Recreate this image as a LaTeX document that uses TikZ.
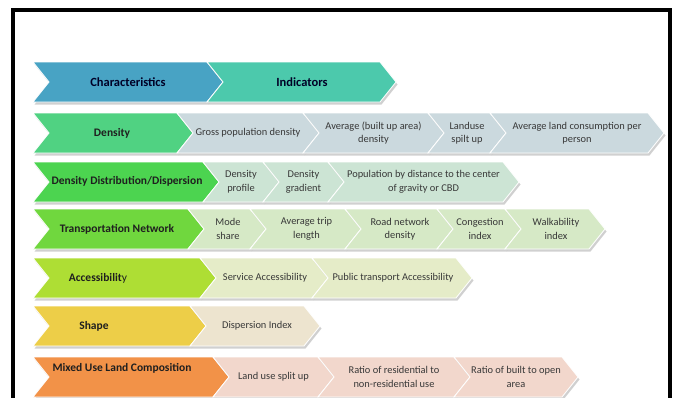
\documentclass[tikz,border=0pt]{standalone}
\usepackage{fontspec}
\setmainfont{Carlito}
\usetikzlibrary{shadows}

\definecolor{charBlue}{RGB}{72,163,196}
\definecolor{indTeal}{RGB}{76,201,172}
\definecolor{densGreen}{RGB}{80,210,130}
\definecolor{densSub}{RGB}{203,217,222}
\definecolor{distGreen}{RGB}{76,212,80}
\definecolor{distSub}{RGB}{204,228,212}
\definecolor{transGreen}{RGB}{112,215,62}
\definecolor{transSub}{RGB}{211,233,198}
\definecolor{accGreen}{RGB}{174,222,52}
\definecolor{accSub}{RGB}{229,236,200}
\definecolor{shapeYellow}{RGB}{237,206,72}
\definecolor{shapeSub}{RGB}{237,228,207}
\definecolor{mixOrange}{RGB}{242,146,72}
\definecolor{mixSub}{RGB}{242,215,204}

% one chevron: [fill options] left x, right x, top y (pixel units, y down)
\newcommand{\chevron}[4][]{%
  \fill[chev,#1] (#2,#4) -- (#3,#4) -- ({#3+\tipDepth},{#4+\rowHeight/2})
    -- (#3,{#4+\rowHeight}) -- (#2,{#4+\rowHeight})
    -- ({#2+\tipDepth},{#4+\rowHeight/2}) -- cycle;}

\begin{document}
\begin{tikzpicture}[x=1pt, y=-1pt,
    chev/.style={draw=white, line width=0.8pt,
      drop shadow={shadow xshift=1.5pt, shadow yshift=-2.5pt, opacity=0.3, fill=black!60}},
    cat/.style={font=\bfseries\fontsize{11.5}{13}\selectfont, text=black!88},
    head/.style={font=\bfseries\fontsize{12.5}{14}\selectfont, text=black!85!blue},
    ind/.style={font=\fontsize{10.4}{13.5}\selectfont, align=center, text=black!78}]

    % Define parameters
    \def\tipDepth{16}   % depth of arrow point and notch
    \def\rowHeight{40}

    \useasboundingbox (0,0) rectangle (678,397);
    \clip (0,0) rectangle (678,397);
    \fill[white] (0,0) rectangle (678,397);

    % Outer frame
    \draw[line width=4.5pt] (13,10) rectangle (670,430);

    % Header row
    \chevron[fill=charBlue]{33}{207}{62}
    \chevron[fill=indTeal]{207}{380}{62}
    \node[head] (char) at (128,82) {Characteristics};
    \node[head] (ind) at (302,82) {Indicators};

    % Density
    \chevron[fill=densGreen]{33}{177}{113}
    \node[cat] (dens) at (112,133) {Density};
    \foreach \xa/\xb/\txt [count=\i] in {177/303/{Gross population density},
        303/428/{Average (built up area)\\density}, 428/490/{Landuse\\spilt up},
        490/648/{Average land consumption per\\person}} {
        \chevron[fill=densSub]{\xa}{\xb}{113}
        \node[ind] (dens-\i) at ({(\xa+\xb)/2+8},133) {\txt};
    }

    % Density distribution / dispersion
    \chevron[fill=distGreen]{33}{203}{162}
    \node[cat] (dist) at (127,181) {Density Distribution/Dispersion};
    \foreach \xa/\xb/\txt [count=\i] in {203/263/{Density\\profile},
        263/328/{Density\\gradient},
        328/503/{Population by distance to the center\\of gravity or CBD}} {
        \chevron[fill=distSub]{\xa}{\xb}{162}
        \node[ind] (dist-\i) at ({(\xa+\xb)/2+8},182) {\txt};
    }

    % Transportation network
    \chevron[fill=transGreen]{33}{188}{209}
    \node[cat] (trans) at (117,229) {Transportation Network};
    \foreach \xa/\xb/\txt [count=\i] in {188/250/{Mode\\share},
        250/345/{Average trip\\length}, 345/437/{Road network\\density},
        437/505/{Congestion\\index}, 505/589/{Walkability\\index}} {
        \chevron[fill=transSub!85!accSub]{\xa}{\xb}{209}
        \node[ind] (trans-\i) at ({(\xa+\xb)/2+9},229) {\txt};
    }

    % Accessibility
    \chevron[fill=accGreen]{33}{200}{258}
    \node[cat] (acc) at (98,278) {Accessibilit\mdseries y};
    \foreach \xa/\xb/\txt [count=\i] in {200/312/{Service Accessibility},
        312/456/{Public transport Accessibility}} {
        \chevron[fill=accSub]{\xa}{\xb}{258}
        \node[ind] (acc-\i) at ({(\xa+\xb)/2+9},278) {\txt};
    }

    % Shape
    \chevron[fill=shapeYellow]{33}{190}{306}
    \node[cat] (shape) at (94,326) {Shape};
    \chevron[fill=shapeSub]{190}{304}{306}
    \node[ind] (shape-1) at (257,326) {Dispersion Index};

    % Mixed use land composition
    \chevron[fill=mixOrange]{33}{213}{357}
    \node[cat] (mix) at (122,368) {Mixed Use Land Composition};
    \foreach \xa/\xb/\txt [count=\i] in {213/318/{Land use split up},
        318/454/{Ratio of residential to\\non-residential use},
        454/562/{Ratio of built to open\\area}} {
        \chevron[fill=mixSub]{\xa}{\xb}{357}
        \node[ind] (mix-\i) at ({(\xa+\xb)/2+8},377) {\txt};
    }

\end{tikzpicture}
\end{document}
